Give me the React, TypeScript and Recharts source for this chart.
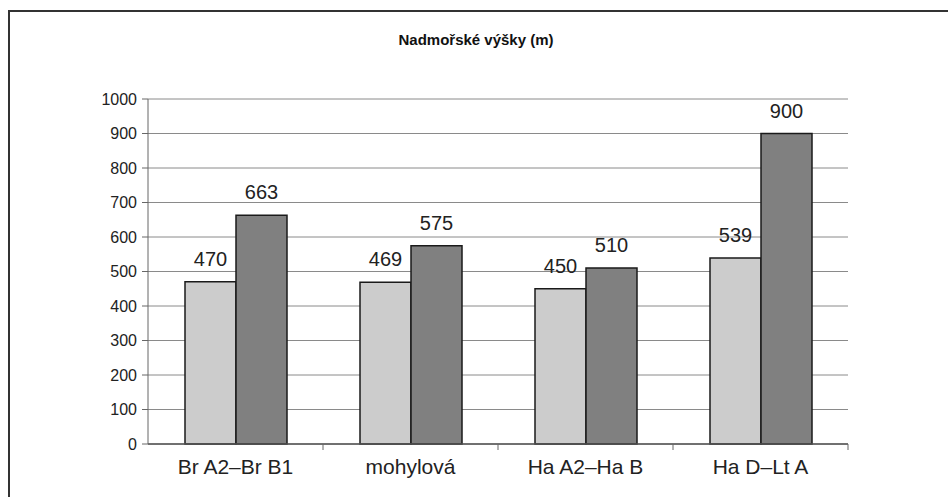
import React from "react";
import { BarChart, Bar, XAxis, YAxis, CartesianGrid, LabelList } from "recharts";

const categories = ["Br A2–Br B1", "mohylová", "Ha A2–Ha B", "Ha D–Lt A"];
const seriesLight = [470, 469, 450, 539];
const seriesDark = [663, 575, 510, 900];
const yTicks = [0, 100, 200, 300, 400, 500, 600, 700, 800, 900, 1000];
const title = "Nadmořské výšky (m)";

const data = categories.map((c, i) => ({ name: c, a: seriesLight[i], b: seriesDark[i] }));

const FONT = "'Liberation Sans', Arial, sans-serif";
const PLOT_W = 700;
const BAND = PLOT_W / categories.length;

const XTick = (props: any) => {
  const { x, y, payload } = props;
  return (
    <g>
      <line x1={x + BAND / 2} y1={y - 8} x2={x + BAND / 2} y2={y - 2} stroke="#666" strokeWidth={1} />
      <text x={x} y={y + 22} textAnchor="middle" fontFamily={FONT} fontSize={21} fill="#222">
        {payload.value}
      </text>
    </g>
  );
};

export default function App() {
  return (
    <div style={{ position: "absolute", left: 0, top: 0, width: 948, height: 497, background: "#fff", overflow: "hidden" }}>
      <div
        style={{
          position: "absolute",
          left: 8,
          top: 10,
          width: 945,
          height: 495,
          borderLeft: "2px solid #333",
          borderTop: "2px solid #333",
        }}
      />
      <div
        style={{
          position: "absolute",
          left: 0,
          top: 31,
          width: 952,
          textAlign: "center",
          fontFamily: FONT,
          fontWeight: "bold",
          fontSize: 15,
          color: "#111",
        }}
      >
        {title}
      </div>
      <div style={{ position: "absolute", left: 0, top: 0 }}>
        <BarChart
          width={948}
          height={497}
          data={data}
          margin={{ top: 99, right: 100, left: 0, bottom: 13 }}
          barGap={0}
          barSize={51}
        >
          <CartesianGrid vertical={false} stroke="#8a8a8a" strokeWidth={1} />
          <XAxis
            dataKey="name"
            height={40}
            tickLine={false}
            axisLine={{ stroke: "#555", strokeWidth: 1.5 }}
            tick={<XTick />}
            interval={0}
          />
          <YAxis
            width={148}
            domain={[0, 1000]}
            ticks={yTicks}
            interval={0}
            tickSize={6}
            tickMargin={5}
            axisLine={{ stroke: "#666", strokeWidth: 1 }}
            tickLine={{ stroke: "#666" }}
            tick={{ fontFamily: FONT, fontSize: 16, fill: "#222" }}
          />
          <YAxis
            yAxisId="right"
            orientation="right"
            width={0}
            domain={[0, 1000]}
            tick={false}
            tickLine={false}
            axisLine={{ stroke: "#888", strokeWidth: 1 }}
          />
          <Bar dataKey="a" fill="#cccccc" stroke="#1a1a1a" strokeWidth={1.5} isAnimationActive={false}>
            <LabelList dataKey="a" position="top" offset={16} style={{ fontFamily: FONT, fontSize: 20, fill: "#222" }} />
          </Bar>
          <Bar dataKey="b" fill="#808080" stroke="#1a1a1a" strokeWidth={1.5} isAnimationActive={false}>
            <LabelList dataKey="b" position="top" offset={16} style={{ fontFamily: FONT, fontSize: 20, fill: "#222" }} />
          </Bar>
        </BarChart>
      </div>
    </div>
  );
}
